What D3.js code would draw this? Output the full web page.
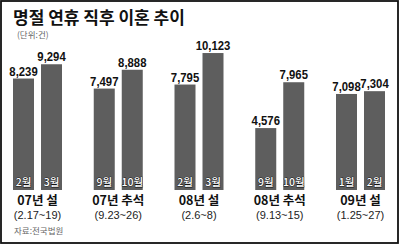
<!DOCTYPE html>
<html>
<head>
<meta charset="utf-8">
<script src="https://cdn.jsdelivr.net/npm/d3@7"></script>
<style>
  html, body { margin: 0; padding: 0; background: #fff; }
  svg { display: block; }
</style>
</head>
<body>
<div id="chart"></div>
<script>
// 명절 연휴 직후 이혼 추이 (단위: 건)
const groups      = ['07년 설', '07년 추석', '08년 설', '08년 추석', '09년 설'];
const periods     = ['(2.17~19)', '(9.23~26)', '(2.6~8)', '(9.13~15)', '(1.25~27)'];
const firstMonth  = ['2월', '9월', '2월', '9월', '1월'];
const secondMonth = ['3월', '10월', '3월', '10월', '2월'];
const firstValue  = [8239, 7497, 7795, 4576, 7098];
const secondValue = [9294, 8888, 10123, 7965, 7304];

const W = 400, H = 246;
const KR = "'Noto Sans CJK KR', 'Noto Sans', sans-serif";
const LAT = "'Liberation Sans', Arial, sans-serif";

const svg = d3.select('#chart').append('svg')
    .attr('width', W)
    .attr('height', H);

// frame
svg.append('rect')
    .attr('x', 1).attr('y', 1)
    .attr('width', W - 3).attr('height', H - 4)
    .attr('fill', '#fff')
    .attr('stroke', '#111')
    .attr('stroke-width', 1.8);

// title
svg.append('text')
    .attr('x', 13).attr('y', 24)
    .attr('font-family', KR)
    .attr('font-weight', 700)
    .attr('font-size', 17)
    .attr('fill', '#111')
    .text('명절 연휴 직후 이혼 추이');

svg.append('text')
    .attr('x', 17).attr('y', 38)
    .attr('font-family', KR)
    .attr('font-size', 8.5)
    .attr('fill', '#666')
    .text('(단위:건)');

// scales
const x = d3.scalePoint()
    .domain(groups)
    .range([37.5, 360.5]);

const inner = d3.scaleBand()
    .domain([0, 1])
    .range([-24.5, 24.5])
    .paddingInner(0.25);

const y = d3.scaleLinear()
    .domain([0, 10000])
    .range([190, 54.7]);

const barCx = d => x(d.group) + inner(d.k) + inner.bandwidth() / 2;

// flatten bars
const bars = [];
groups.forEach((g, i) => {
    bars.push({ group: g, k: 0, value: firstValue[i],  month: firstMonth[i] });
    bars.push({ group: g, k: 1, value: secondValue[i], month: secondMonth[i] });
});

const barG = svg.append('g');

barG.selectAll('rect.bar')
    .data(bars)
  .enter().append('rect')
    .attr('class', 'bar')
    .attr('x', d => x(d.group) + inner(d.k))
    .attr('y', d => y(d.value))
    .attr('width', inner.bandwidth())
    .attr('height', d => y(0) - y(d.value))
    .attr('fill', '#5e5e5e');

// value labels — condensed look via horizontal squeeze
barG.selectAll('text.val')
    .data(bars)
  .enter().append('text')
    .attr('class', 'val')
    .attr('transform', d => `translate(${barCx(d)},${y(d.value) - 3}) scale(0.84,1)`)
    .attr('text-anchor', 'middle')
    .attr('font-family', LAT)
    .attr('font-weight', 700)
    .attr('font-size', 13.5)
    .attr('fill', '#111')
    .text(d => d3.format(',')(d.value));

// month labels inside bars (white with dark outline)
barG.selectAll('text.month')
    .data(bars)
  .enter().append('text')
    .attr('class', 'month')
    .attr('x', barCx)
    .attr('y', y(0) - 4)
    .attr('text-anchor', 'middle')
    .attr('font-family', KR)
    .attr('font-weight', 500)
    .attr('font-size', 10.5)
    .attr('fill', '#fff')
    .attr('stroke', '#111')
    .attr('stroke-width', 0.8)
    .attr('paint-order', 'stroke')
    .text(d => d.month);

// category labels
svg.append('g').selectAll('text')
    .data(groups)
  .enter().append('text')
    .attr('x', d => x(d))
    .attr('y', 205)
    .attr('text-anchor', 'middle')
    .attr('font-family', KR)
    .attr('font-weight', 700)
    .attr('font-size', 12.5)
    .attr('fill', '#111')
    .text(d => d);

svg.append('g').selectAll('text')
    .data(periods)
  .enter().append('text')
    .attr('x', (d, i) => x(groups[i]))
    .attr('y', 219)
    .attr('text-anchor', 'middle')
    .attr('font-family', LAT)
    .attr('font-size', 11)
    .attr('fill', '#222')
    .text(d => d);

// source
svg.append('text')
    .attr('x', 14).attr('y', 234)
    .attr('font-family', KR)
    .attr('font-size', 8.5)
    .attr('fill', '#666')
    .text('자료:전국법원');
</script>
</body>
</html>
